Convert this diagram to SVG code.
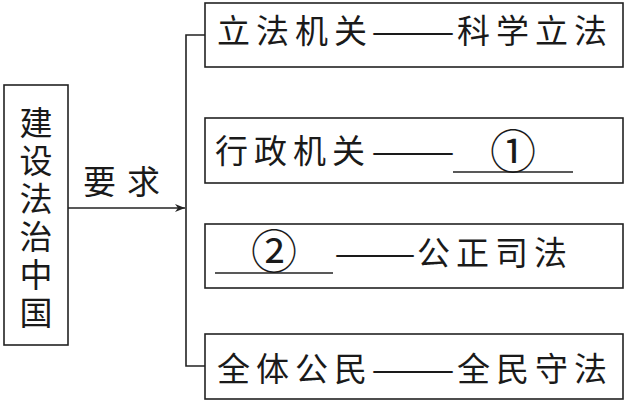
<svg xmlns="http://www.w3.org/2000/svg" width="628" height="402" viewBox="0 0 628 402">
<defs>
<style>
.box{fill:#fff;stroke:#222;stroke-width:1.6}
.ln{fill:none;stroke:#222;stroke-width:1.6}
.t{font-family:"Noto Sans CJK SC","Noto Sans CJK JP",sans-serif;font-size:33px;fill:#1a1a1a;letter-spacing:6px}
.d{font-family:"Noto Sans CJK SC","Noto Sans CJK JP",sans-serif;font-size:33px;fill:#1a1a1a}
.v{font-family:"Noto Sans CJK SC","Noto Sans CJK JP",sans-serif;font-size:33px;fill:#1a1a1a;writing-mode:vertical-rl;letter-spacing:5px}
.n{font-family:"Noto Sans CJK SC","Noto Sans CJK JP",sans-serif;font-size:46px;fill:#1a1a1a;text-anchor:middle}
</style>
<marker id="arr" markerWidth="10" markerHeight="8" refX="10" refY="4" orient="auto" markerUnits="userSpaceOnUse">
<path d="M0,0 L10,4 L0,8 L3,4 Z" fill="#222"/>
</marker>
</defs>
<rect width="628" height="402" fill="#fff"/>
<g id="connectors">
<line class="ln" x1="68" y1="208" x2="185" y2="208" marker-end="url(#arr)"/>
<polyline class="ln" points="205,35 186,35 186,366 205,366"/>
<text class="t" x="83" y="194" style="letter-spacing:11px">要求</text>
</g>
<g id="node-root">
<rect class="box" x="4" y="85" width="64" height="260"/>
<text class="v" x="36" y="106">建设法治中国</text>
</g>
<g id="node-1">
<rect class="box" x="205" y="3" width="418" height="64"/>
<text class="t" x="217" y="43">立法机关</text>
<text class="d" x="371" y="43" textLength="84" lengthAdjust="spacingAndGlyphs">——</text>
<text class="t" x="457" y="43">科学立法</text>
</g>
<g id="node-2">
<rect class="box" x="205" y="118" width="418" height="65"/>
<text class="t" x="215" y="163">行政机关</text>
<text class="d" x="371" y="163" textLength="84" lengthAdjust="spacingAndGlyphs">——</text>
<line class="ln" x1="453" y1="172" x2="573" y2="172"/>
<text class="n" x="513" y="168">①</text>
</g>
<g id="node-3">
<rect class="box" x="205" y="224" width="418" height="64"/>
<line class="ln" x1="215" y1="273" x2="333" y2="273"/>
<text class="n" x="274" y="268">②</text>
<text class="d" x="334" y="265" textLength="82" lengthAdjust="spacingAndGlyphs">——</text>
<text class="t" x="417" y="265">公正司法</text>
</g>
<g id="node-4">
<rect class="box" x="205" y="334" width="418" height="65"/>
<text class="t" x="217" y="381">全体公民</text>
<text class="d" x="371" y="381" textLength="84" lengthAdjust="spacingAndGlyphs">——</text>
<text class="t" x="457" y="381">全民守法</text>
</g>
</svg>
